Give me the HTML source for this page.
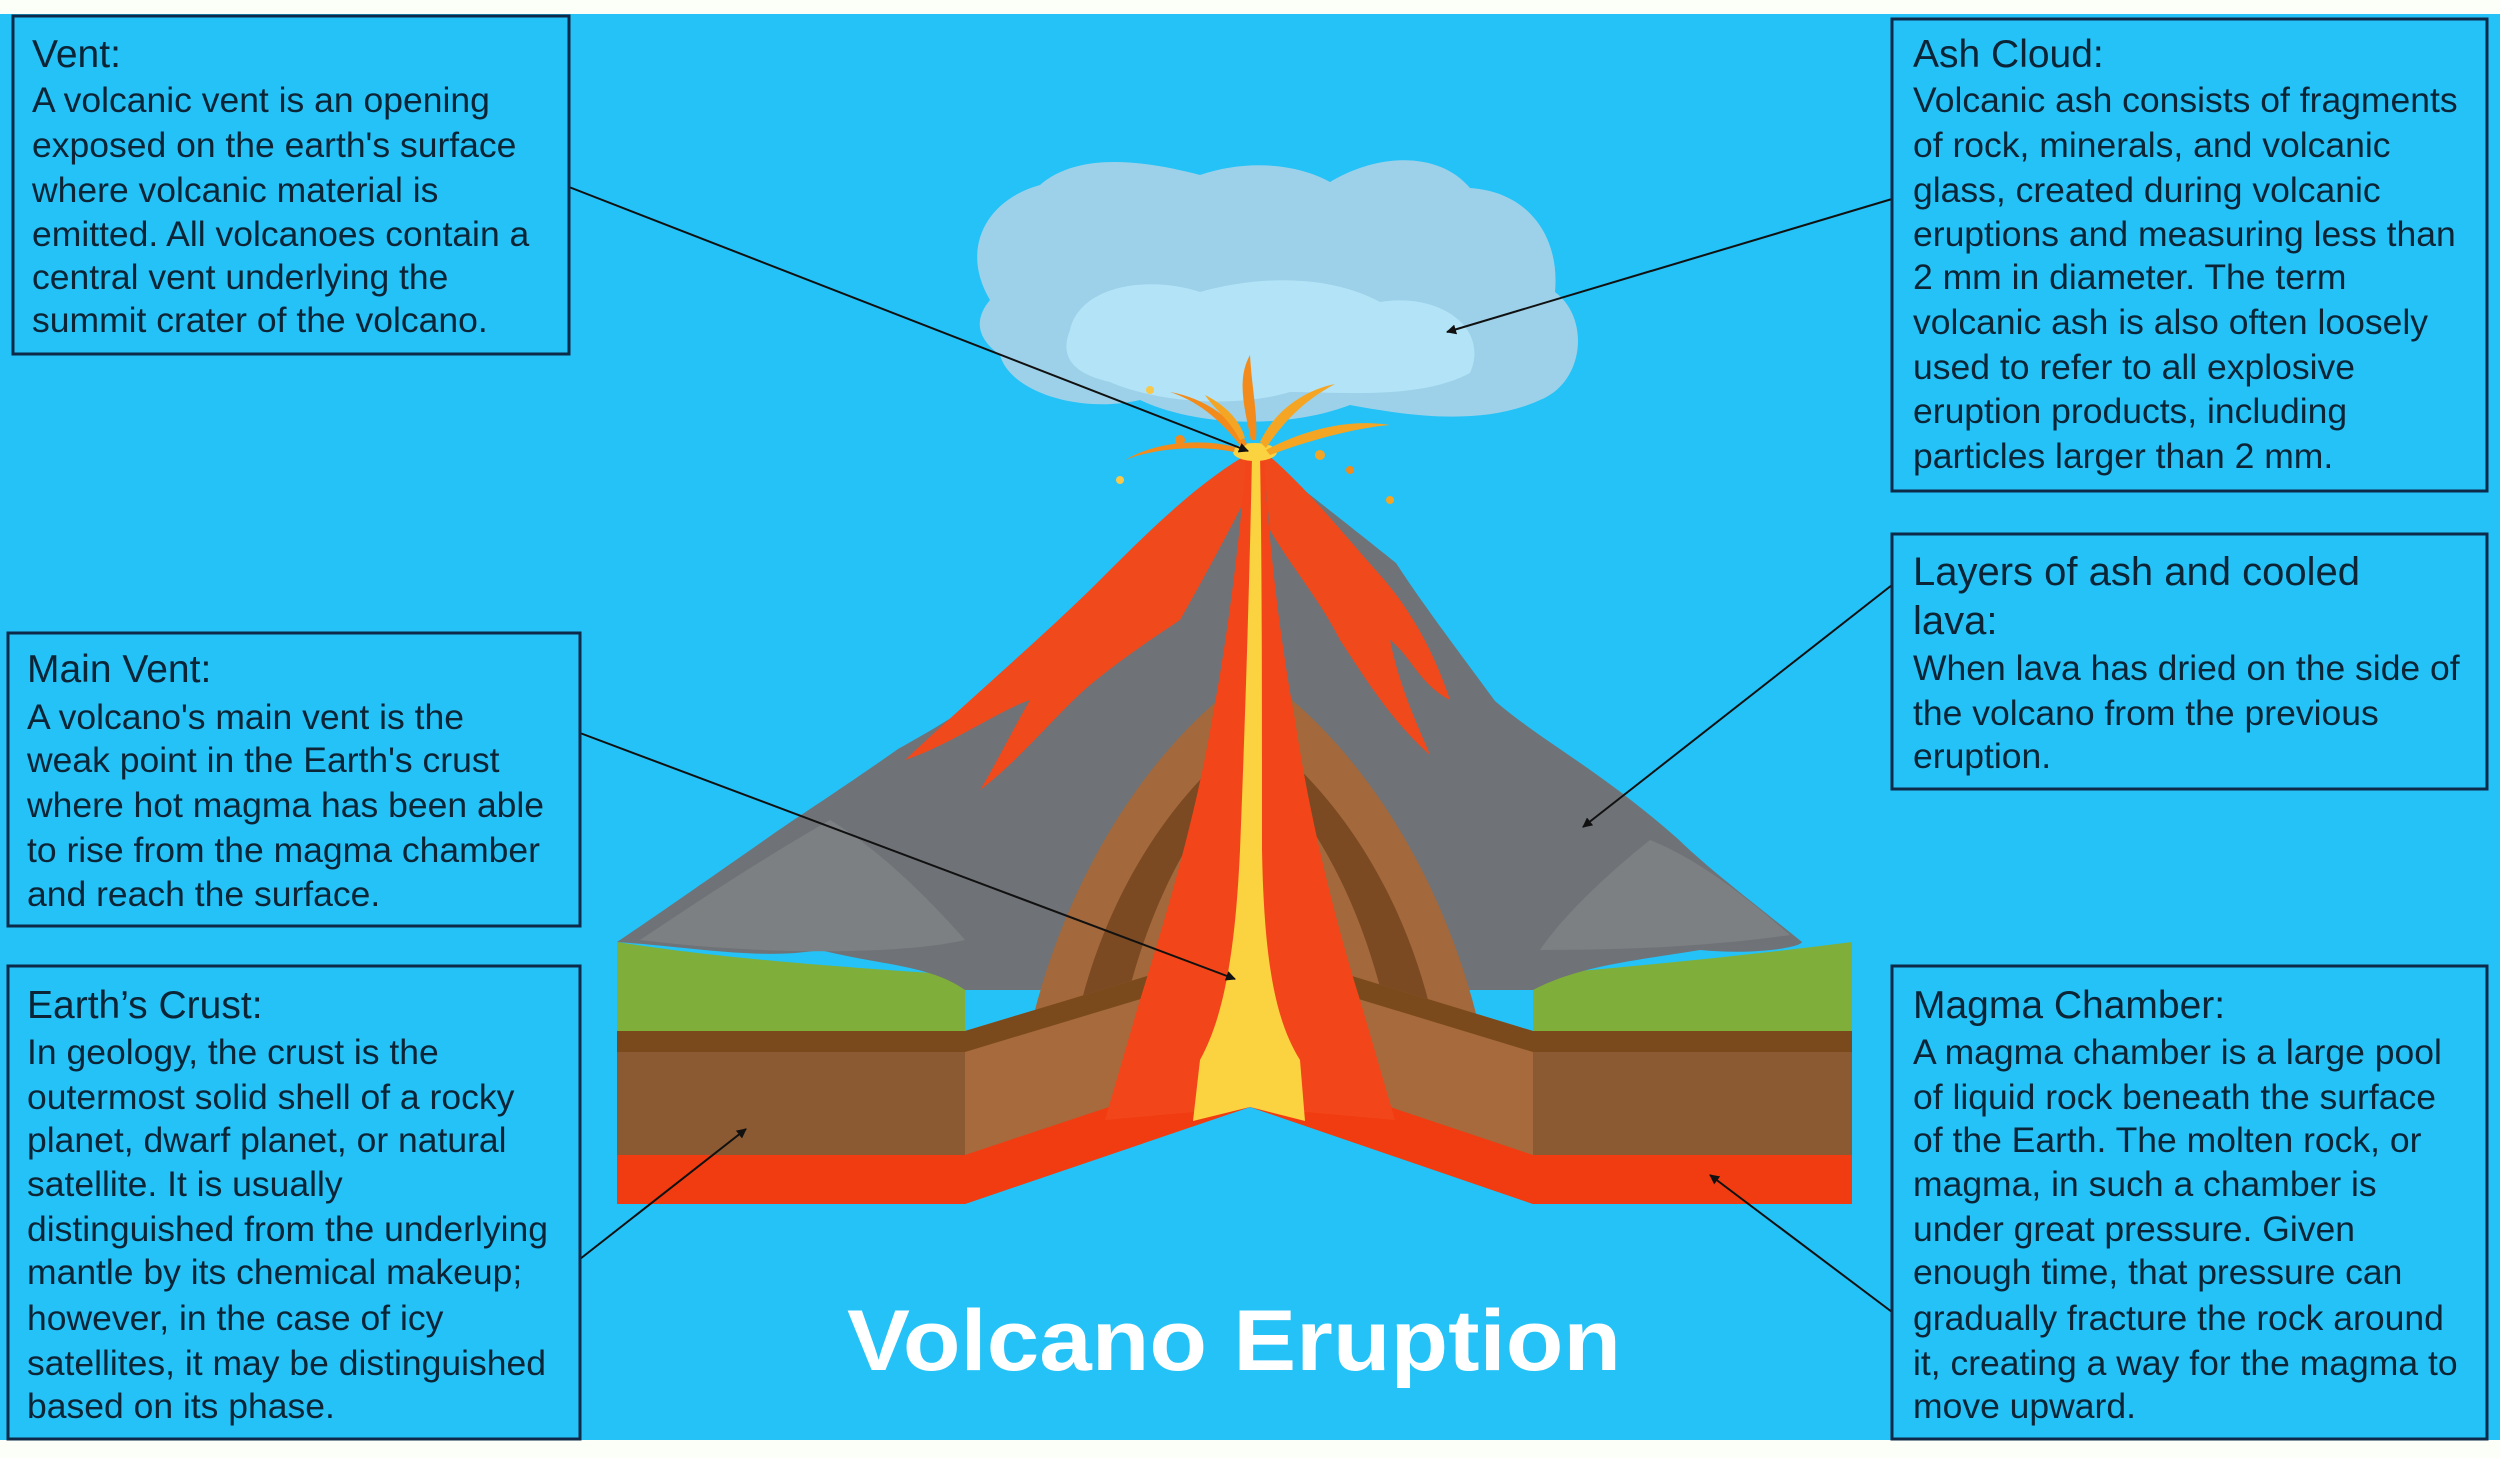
<!DOCTYPE html>
<html><head><meta charset="utf-8"><style>
html,body{margin:0;padding:0;background:#fff}
svg{display:block}
text{font-family:"Liberation Sans",Arial,sans-serif;fill:#0b2436}
</style></head><body>
<svg width="2500" height="1458" viewBox="0 0 2500 1458" xmlns="http://www.w3.org/2000/svg">
<defs>
<marker id="ah" markerWidth="10" markerHeight="10" refX="9" refY="5" orient="auto" markerUnits="userSpaceOnUse" viewBox="0 0 10 10">
<path d="M0,0 L10,5 L0,10 z" fill="#111"/></marker>
</defs>
<rect x="0" y="0" width="2500" height="1458" fill="#fbfff8"/>
<rect x="0" y="14" width="2500" height="1426" fill="#24c2f7"/>

<!-- cloud -->
<path d="M990,300 C960,250 985,200 1040,185 C1080,150 1150,162 1200,175 C1250,158 1300,165 1330,182 C1380,152 1440,152 1470,188 C1530,192 1560,238 1555,292 C1590,318 1585,382 1540,400 C1480,428 1400,414 1350,405 C1290,428 1200,428 1140,400 C1080,414 1010,392 1000,355 C975,337 975,318 990,300 Z" fill="#9dd1e9"/>
<path d="M1070,330 C1080,285 1150,275 1200,292 C1260,275 1330,275 1380,302 C1440,292 1490,328 1470,373 C1420,400 1340,392 1290,392 C1230,410 1150,400 1110,382 C1070,373 1060,355 1070,330 Z" fill="#b3e3f6"/>

<!-- left block -->
<path d="M617,942 C700,955 800,965 965,975 L965,1031 L617,1031 Z" fill="#7faf3a"/>
<rect x="617" y="1031" width="348" height="21" fill="#7a4a1c"/>
<rect x="617" y="1052" width="348" height="103" fill="#8c5a32"/>
<rect x="617" y="1155" width="348" height="49" fill="#f03c10"/>
<!-- right block -->
<path d="M1533,975 C1650,965 1750,955 1852,942 L1852,1031 L1533,1031 Z" fill="#7faf3a"/>
<rect x="1533" y="1031" width="319" height="21" fill="#7a4a1c"/>
<rect x="1533" y="1052" width="319" height="103" fill="#8c5a32"/>
<rect x="1533" y="1155" width="319" height="49" fill="#f03c10"/>

<!-- cone -->
<path d="M1255,450 C1190,500 1120,580 1064,632 C1000,690 950,720 898,749 C840,790 800,815 766,839 C700,885 650,920 617,942 C700,948 760,960 820,950 C880,965 930,965 965,990 L1533,990 C1580,965 1640,960 1700,950 C1750,955 1800,948 1802,942 C1750,900 1710,870 1678,839 C1600,770 1540,740 1495,701 C1450,640 1420,600 1396,563 C1330,510 1290,480 1255,450Z" fill="#6f7377"/>
<path d="M640,940 C700,900 760,860 830,820 C880,850 930,900 965,940 C900,955 760,955 640,940 Z" fill="#7c8083"/>
<path d="M1790,935 C1750,900 1700,860 1650,840 C1600,880 1560,920 1540,950 C1640,950 1720,945 1790,935 Z" fill="#7c8083"/>
<!-- interior brown cutaway -->
<path d="M1030,1030 C1060,900 1130,770 1230,690 L1280,690 C1380,770 1450,900 1480,1030 Z" fill="#a3683b"/>
<path d="M1075,1030 C1095,930 1145,830 1220,760 L1240,775 C1180,840 1140,930 1120,1030 Z" fill="#7b4a22"/>
<path d="M1435,1030 C1415,930 1365,830 1290,760 L1270,775 C1330,840 1370,930 1390,1030 Z" fill="#7b4a22"/>
<!-- lava flows on cone -->
<path d="M1255,450 C1200,480 1150,530 1100,580 C1050,630 980,690 905,760 C950,745 1000,710 1030,700 C1010,735 990,775 980,790 C1020,760 1060,710 1090,685 C1120,660 1150,640 1180,620 C1200,585 1230,530 1255,480 Z" fill="#f0491c"/>
<path d="M1262,450 C1300,480 1340,530 1380,575 C1420,620 1440,670 1450,700 C1420,685 1410,655 1390,640 C1400,690 1420,730 1430,755 C1390,720 1360,670 1340,640 C1320,600 1290,565 1270,530 Z" fill="#f0491c"/>
<!-- left face -->
<path d="M965,1031 L1250,945 L1250,1107 L965,1204 Z" fill="#a66a3c"/>
<path d="M965,1031 L1250,945 L1250,966 L965,1052 Z" fill="#7a4a1c"/>
<path d="M965,1155 L1250,1060 L1250,1107 L965,1204 Z" fill="#f03c10"/>
<!-- right face -->
<path d="M1533,1031 L1250,945 L1250,1107 L1533,1204 Z" fill="#a66a3c"/>
<path d="M1533,1031 L1250,945 L1250,966 L1533,1052 Z" fill="#7a4a1c"/>
<path d="M1533,1155 L1250,1060 L1250,1107 L1533,1204 Z" fill="#f03c10"/>
<!-- lava column -->
<path d="M1246,460 C1238,560 1225,650 1212,720 C1195,820 1165,920 1140,1000 L1105,1120 L1250,1107 L1395,1120 L1360,1000 C1335,920 1310,820 1295,720 C1282,650 1270,560 1264,460 Z" fill="#f2461a"/>
<path d="M1252,455 C1250,560 1246,700 1240,850 C1235,960 1222,1020 1200,1060 L1193,1121 L1250,1107 L1305,1121 L1300,1060 C1275,1020 1264,960 1262,850 C1262,700 1262,560 1260,455 Z" fill="#fbd23f"/>
<!-- eruption splashes -->
<g fill="#f5a524">
<ellipse cx="1255" cy="452" rx="22" ry="9" fill="#fbd23f"/>
<path d="M1242,448 C1220,418 1195,400 1170,392 C1205,398 1235,420 1247,444Z" fill="#f28a1c"/>
<path d="M1260,442 C1275,410 1305,390 1335,384 C1305,400 1285,420 1266,448Z"/>
<path d="M1251,440 C1245,410 1236,380 1250,355 C1252,390 1258,415 1256,440Z" fill="#f28a1c"/>
<path d="M1266,450 C1300,432 1345,418 1390,425 C1355,428 1310,440 1270,455Z"/>
<path d="M1234,452 C1200,445 1155,448 1125,460 C1155,442 1200,438 1235,447Z" fill="#f28a1c"/>
<path d="M1240,440 C1230,420 1215,410 1205,395 C1225,405 1240,420 1245,438Z"/>
<circle cx="1180" cy="440" r="5" fill="#f28a1c"/><circle cx="1320" cy="455" r="5"/><circle cx="1150" cy="390" r="4" fill="#f7c84a"/><circle cx="1350" cy="470" r="4" fill="#f28a1c"/><circle cx="1390" cy="500" r="4"/><circle cx="1120" cy="480" r="4" fill="#f7c84a"/>
</g>

<!-- title -->
<text x="847" y="1370" font-size="86" font-weight="bold" textLength="774" lengthAdjust="spacingAndGlyphs" style="fill:#fff">Volcano Eruption</text>

<!-- connectors -->
<g stroke="#111" stroke-width="2" fill="none" marker-end="url(#ah)">
<line x1="569" y1="187" x2="1248" y2="451"/>
<line x1="1892" y1="199" x2="1447" y2="332"/>
<line x1="1892" y1="585" x2="1583" y2="827"/>
<line x1="580" y1="733" x2="1235" y2="979"/>
<line x1="580" y1="1259" x2="746" y2="1129"/>
<line x1="1892" y1="1312" x2="1710" y2="1175"/>
</g>

<!-- boxes -->
<g fill="none" stroke="#0d2a48" stroke-width="3">
<rect x="13" y="16" width="556" height="338"/>
<rect x="1892" y="19" width="595" height="472"/>
<rect x="1892" y="534" width="595" height="255"/>
<rect x="8" y="633" width="572" height="293"/>
<rect x="8" y="966" width="572" height="473"/>
<rect x="1892" y="966" width="595" height="473"/>
</g>

<g font-size="35.5">
<text x="32" y="67" font-size="39">Vent:</text>
<text x="32" y="112">A volcanic vent is an opening</text>
<text x="32" y="157">exposed on the earth's surface</text>
<text x="32" y="202">where volcanic material is</text>
<text x="32" y="246">emitted. All volcanoes contain a</text>
<text x="32" y="289">central vent underlying the</text>
<text x="32" y="332">summit crater of the volcano.</text>

<text x="1913" y="67" font-size="39">Ash Cloud:</text>
<text x="1913" y="112">Volcanic ash consists of fragments</text>
<text x="1913" y="157">of rock, minerals, and volcanic</text>
<text x="1913" y="202">glass, created during volcanic</text>
<text x="1913" y="246">eruptions and measuring less than</text>
<text x="1913" y="289">2 mm in diameter. The term</text>
<text x="1913" y="334">volcanic ash is also often loosely</text>
<text x="1913" y="379">used to refer to all explosive</text>
<text x="1913" y="423">eruption products, including</text>
<text x="1913" y="468">particles larger than 2 mm.</text>

<text x="1913" y="585" font-size="40">Layers of ash and cooled</text>
<text x="1913" y="634" font-size="40">lava:</text>
<text x="1913" y="680">When lava has dried on the side of</text>
<text x="1913" y="725">the volcano from the previous</text>
<text x="1913" y="768">eruption.</text>

<text x="27" y="682" font-size="39">Main Vent:</text>
<text x="27" y="729">A volcano's main vent is the</text>
<text x="27" y="772">weak point in the Earth's crust</text>
<text x="27" y="817">where hot magma has been able</text>
<text x="27" y="862">to rise from the magma chamber</text>
<text x="27" y="906">and reach the surface.</text>

<text x="27" y="1018" font-size="39">Earth’s Crust:</text>
<text x="27" y="1064">In geology, the crust is the</text>
<text x="27" y="1109">outermost solid shell of a rocky</text>
<text x="27" y="1152">planet, dwarf planet, or natural</text>
<text x="27" y="1196">satellite. It is usually</text>
<text x="27" y="1241">distinguished from the underlying</text>
<text x="27" y="1284">mantle by its chemical makeup;</text>
<text x="27" y="1330">however, in the case of icy</text>
<text x="27" y="1375">satellites, it may be distinguished</text>
<text x="27" y="1418">based on its phase.</text>

<text x="1913" y="1018" font-size="39">Magma Chamber:</text>
<text x="1913" y="1064">A magma chamber is a large pool</text>
<text x="1913" y="1109">of liquid rock beneath the surface</text>
<text x="1913" y="1152">of the Earth. The molten rock, or</text>
<text x="1913" y="1196">magma, in such a chamber is</text>
<text x="1913" y="1241">under great pressure. Given</text>
<text x="1913" y="1284">enough time, that pressure can</text>
<text x="1913" y="1330">gradually fracture the rock around</text>
<text x="1913" y="1375">it, creating a way for the magma to</text>
<text x="1913" y="1418">move upward.</text>
</g>
</svg>
</body></html>
